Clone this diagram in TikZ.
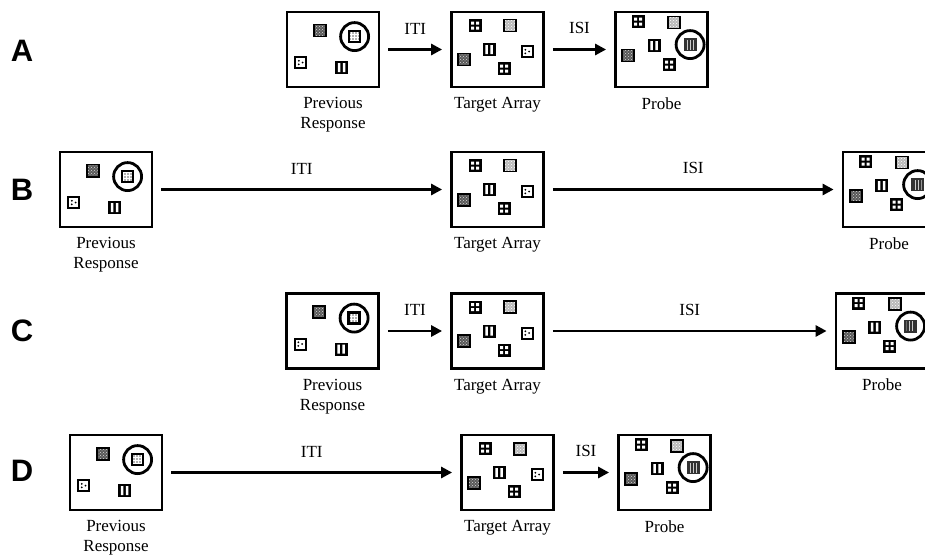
\documentclass[tikz,border=0pt]{standalone}
\usepackage{fontspec}
\setmainfont{Liberation Serif}
\newfontfamily\tagfont{Liberation Sans}
\usetikzlibrary{arrows.meta,patterns,positioning}

\newcommand{\capfont}{\fontsize{17}{20}\selectfont}
\newcommand{\rowfont}{\tagfont\bfseries\fontsize{31}{36}\selectfont}

\tikzset{
  panel/.style={draw, line width=2.8pt, minimum width=92pt, minimum height=75pt, inner sep=0pt},
  stimcap/.style={font=\capfont, align=center, inner sep=0pt, below=9pt},
  arr/.style={line width=2.8pt, -{Triangle[length=11pt,width=11pt]}, shorten <=8pt, shorten >=8pt},
  gaplabel/.style={font=\capfont, midway, above=14pt, inner sep=0pt},
  rowtag/.style={font=\rowfont},
  darksq/.pic={
    \fill[black!65] (-6,-6) rectangle (6,6);
    \fill[pattern=crosshatch dots, pattern color=white!70!gray] (-5,-5) rectangle (5,5);
    \draw[line width=1.8pt] (-6,-6) rectangle (6,6);},
  lightsq/.pic={
    \fill[gray!55] (-6,-6) rectangle (6,6);
    \fill[pattern=crosshatch dots, pattern color=white] (-5,-5) rectangle (5,5);
    \draw[line width=1.8pt] (-6,-6) rectangle (6,6);},
  ringsq/.pic={
    \fill[gray!60] (-6,-6) rectangle (6,6);
    \fill[pattern=grid, pattern color=white] (-4.5,-4.5) rectangle (4.5,4.5);
    \draw[line width=2.4pt] (-5.5,-5.5) rectangle (5.5,5.5);
    \draw[line width=2.8pt] (0,0) circle (14pt);},
  probesq/.pic={
    \fill[black!80] (-6.5,-6.5) rectangle (6.5,6.5);
    \fill[pattern=vertical lines, pattern color=white!60!gray] (-4,-4.5) rectangle (4,4.5);
    \draw[line width=2.8pt] (0,0) circle (14pt);},
  winsq/.pic={
    \fill (-6.5,-6.5) rectangle (6.5,6.5);
    \fill[white] (-4,-4) rectangle (-1,-1) (1,-4) rectangle (4,-1)
                 (-4,1) rectangle (-1,4) (1,1) rectangle (4,4);},
  barsq/.pic={
    \fill (-6.5,-6.5) rectangle (6.5,6.5);
    \fill[white] (-3.8,-4.5) rectangle (-1.2,4.5) (1.2,-4.5) rectangle (3.8,4.5);},
  dotsq/.pic={
    \fill[white] (-5.5,-5.5) rectangle (5.5,5.5);
    \draw[line width=2.2pt] (-5.5,-5.5) rectangle (5.5,5.5);
    \fill (-1.8,-1.8) circle (1pt) (-1.8,1.8) circle (1pt) (2,0) circle (1pt);},
  prevstim/.pic={
    \pic at (34,20) {darksq};
    \pic at (69,26) {ringsq};
    \pic at (15,52) {dotsq};
    \pic at (56,57) {barsq};},
  targstim/.pic={
    \pic at (25,15) {winsq};
    \pic at (60,15) {lightsq};
    \pic at (39,39) {barsq};
    \pic at (77,41) {dotsq};
    \pic at (14,49) {darksq};
    \pic at (54,58) {winsq};},
  probstim/.pic={
    \pic at (24,11) {winsq};
    \pic at (60,12) {lightsq};
    \pic at (40,35) {barsq};
    \pic at (14,45) {darksq};
    \pic at (55,54) {winsq};
    \pic at (76,34) {probesq};}
}

\begin{document}
\begin{tikzpicture}[x=1pt,y=-1pt]
\fill[white] (0,0) rectangle (925,556);
\useasboundingbox (0,0) rectangle (925,556);
\clip (0,0) rectangle (925,556);

% row labels
\node[rowtag] (tagA) at (22,51) {A};
\node[rowtag] (tagB) at (22,190) {B};
\node[rowtag] (tagC) at (22,331) {C};
\node[rowtag] (tagD) at (22,471) {D};

% A
\node[panel] (prevA) at (333,49.5) {};
\node[panel] (targA) at (497.5,49.5) {};
\node[panel] (probA) at (661.5,49.5) {};
\pic at (prevA.north west) {prevstim};
\pic at (targA.north west) {targstim};
\pic at (probA.north west) {probstim};
\node[stimcap] at (prevA.south) {Previous\\Response};
\node[stimcap] at (targA.south) {Target Array};
\node[stimcap] at (probA.south) {Probe};
\draw[arr] (prevA) -- node[gaplabel] {ITI} (targA);
\draw[arr] (targA) -- node[gaplabel] {ISI} (probA);

% B
\node[panel] (prevB) at (106,189.5) {};
\node[panel] (targB) at (497.5,189.5) {};
\node[panel] (probB) at (889,189.5) {};
\pic at (prevB.north west) {prevstim};
\pic at (targB.north west) {targstim};
\pic at (probB.north west) {probstim};
\node[stimcap] at (prevB.south) {Previous\\Response};
\node[stimcap] at (targB.south) {Target Array};
\node[stimcap] at (probB.south) {Probe};
\draw[arr] (prevB) -- node[gaplabel] {ITI} (targB);
\draw[arr] (targB) -- node[gaplabel] {ISI} (probB);

% C
\node[panel] (prevC) at (332.5,331) {};
\node[panel] (targC) at (497.5,331) {};
\node[panel] (probC) at (882,331) {};
\pic at (prevC.north west) {prevstim};
\pic at (targC.north west) {targstim};
\pic at (probC.north west) {probstim};
\node[stimcap] at (prevC.south) {Previous\\Response};
\node[stimcap] at (targC.south) {Target Array};
\node[stimcap] at (probC.south) {Probe};
\draw[arr] (prevC) -- node[gaplabel] {ITI} (targC);
\draw[arr] (targC) -- node[gaplabel] {ISI} (probC);

% D
\node[panel] (prevD) at (116,472.5) {};
\node[panel] (targD) at (507.5,472.5) {};
\node[panel] (probD) at (664.5,472.5) {};
\pic at (prevD.north west) {prevstim};
\pic at (targD.north west) {targstim};
\pic at (probD.north west) {probstim};
\node[stimcap] at (prevD.south) {Previous\\Response};
\node[stimcap] at (targD.south) {Target Array};
\node[stimcap] at (probD.south) {Probe};
\draw[arr] (prevD) -- node[gaplabel] {ITI} (targD);
\draw[arr] (targD) -- node[gaplabel] {ISI} (probD);
\end{tikzpicture}
\end{document}
